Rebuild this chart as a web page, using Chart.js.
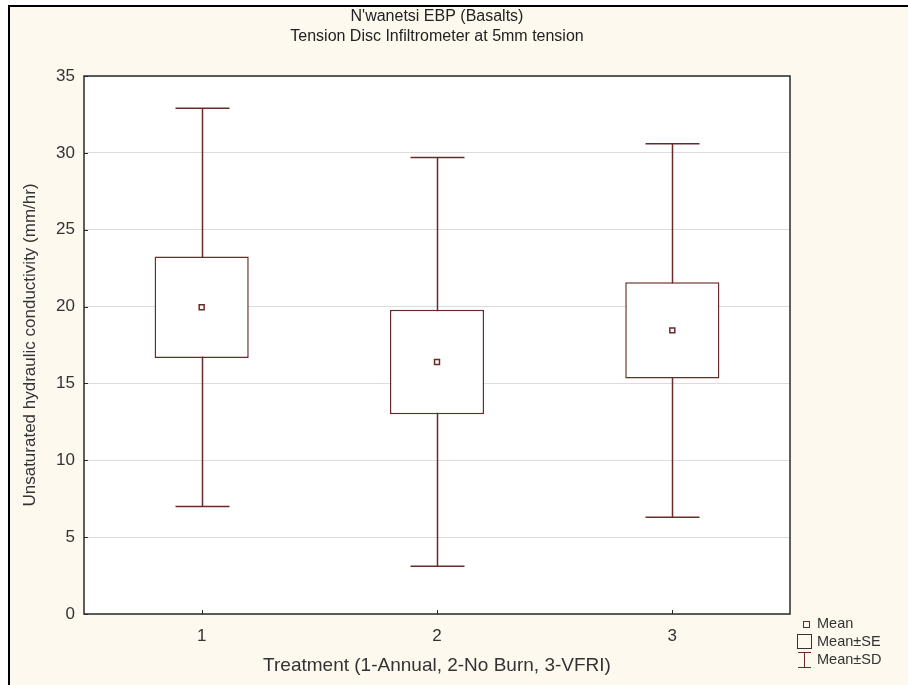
<!DOCTYPE html>
<html>
<head>
<meta charset="utf-8">
<script src="https://cdn.jsdelivr.net/npm/chart.js@4.4.0/dist/chart.umd.min.js"></script>
<style>
html, body { margin: 0; padding: 0; background: #fff; }
#frame { position: absolute; left: 8px; top: 5px; width: 1000px; height: 800px;
  border-left: 2px solid #000; border-top: 2px solid #000; background: #fdf9ee; }
#wrap { position: absolute; left: 0; top: 0; width: 908px; height: 685px; }
</style>
</head>
<body>
<div id="frame"></div>
<div id="wrap"><canvas id="myChart" width="908" height="685"></canvas></div>
<script>
// Treatment groups and their stats
var treatments = ['1', '2', '3'];
var means = [19.95, 16.4, 18.45];
var se = [3.3, 3.4, 3.13];
var sd = [12.95, 13.3, 12.15];
var yTicks = [0, 5, 10, 15, 20, 25, 30, 35];

var titleLines = ["N'wanetsi EBP (Basalts)", 'Tension Disc Infiltrometer at 5mm tension'];
var legendItems = ['Mean', 'Mean\u00b1SE', 'Mean\u00b1SD'];

var col = '#6b2a2a';
var fam = 'Arial, "Liberation Sans", sans-serif';

Chart.defaults.font.family = fam;
Chart.defaults.font.size = 17;
Chart.defaults.color = '#333';

var boxData = means.map(function (m, i) { return [m - se[i], m + se[i]]; });

var plotDecor = {
    id: 'plotDecor',
    beforeDraw: function (chart) {
        var a = chart.chartArea, ctx = chart.ctx;
        ctx.save();
        ctx.fillStyle = '#fff';
        ctx.fillRect(a.left, a.top, a.right - a.left, a.bottom - a.top);
        ctx.restore();
    },
    beforeDatasetsDraw: function (chart) {
        // SD whiskers, drawn under the SE boxes
        var ctx = chart.ctx, x = chart.scales.x, y = chart.scales.y;
        ctx.save();
        ctx.strokeStyle = col;
        ctx.lineWidth = 1.5;
        treatments.forEach(function (t, i) {
            var px = Math.round(x.getPixelForValue(i)) + 0.5;
            var top = y.getPixelForValue(means[i] + sd[i]);
            var bot = y.getPixelForValue(means[i] - sd[i]);
            ctx.beginPath();
            ctx.moveTo(px, top); ctx.lineTo(px, bot);
            ctx.moveTo(px - 27, top); ctx.lineTo(px + 27, top);
            ctx.moveTo(px - 27, bot); ctx.lineTo(px + 27, bot);
            ctx.stroke();
        });
        ctx.restore();
    },
    afterDraw: function (chart) {
        var a = chart.chartArea, ctx = chart.ctx, x = chart.scales.x, y = chart.scales.y;
        ctx.save();
        // frame of plot
        ctx.strokeStyle = '#2a2a2a';
        ctx.lineWidth = 1.5;
        ctx.strokeRect(a.left, a.top, a.right - a.left, a.bottom - a.top);
        // little inner ticks
        ctx.lineWidth = 1;
        ctx.beginPath();
        yTicks.forEach(function (v) {
            var py = Math.round(y.getPixelForValue(v)) + 0.5;
            ctx.moveTo(a.left, py); ctx.lineTo(a.left + 4, py);
        });
        treatments.forEach(function (t, i) {
            var px = Math.round(x.getPixelForValue(i)) + 0.5;
            ctx.moveTo(px, a.bottom); ctx.lineTo(px, a.bottom - 4);
        });
        ctx.stroke();

        // title
        ctx.fillStyle = '#222';
        ctx.font = '16px ' + fam;
        ctx.textAlign = 'center';
        ctx.textBaseline = 'middle';
        var cx = (a.left + a.right) / 2;
        ctx.fillText(titleLines[0], cx, 17);
        ctx.fillText(titleLines[1], cx, 37);

        // legend
        ctx.font = '14.5px ' + fam;
        ctx.textAlign = 'left';
        ctx.fillStyle = '#333';
        ctx.fillText(legendItems[0], 817, 624);
        ctx.fillText(legendItems[1], 817, 642);
        ctx.fillText(legendItems[2], 817, 660);
        ctx.strokeStyle = col;
        ctx.lineWidth = 1;
        ctx.strokeRect(803.5, 621.5, 6, 6);
        ctx.strokeStyle = '#333';
        ctx.strokeRect(797.5, 634.5, 14, 14);
        ctx.strokeStyle = col;
        ctx.beginPath();
        ctx.moveTo(798, 652.5); ctx.lineTo(811, 652.5);
        ctx.moveTo(804.5, 652.5); ctx.lineTo(804.5, 667.5);
        ctx.moveTo(798, 667.5); ctx.lineTo(811, 667.5);
        ctx.stroke();
        ctx.restore();
    }
};

var ctx = document.getElementById('myChart').getContext('2d');
var myChart = new Chart(ctx, {
    data: {
        labels: treatments,
        datasets: [{
            type: 'line',
            label: 'Mean',
            data: means,
            showLine: false,
            pointStyle: 'rect',
            pointRadius: 3.5,
            pointBorderWidth: 1.5,
            pointBackgroundColor: '#fff',
            pointBorderColor: col,
            order: 1
        }, {
            type: 'bar',
            label: 'Mean\u00b1SE',
            data: boxData,
            backgroundColor: '#fff',
            borderColor: col,
            borderWidth: 1.5,
            borderSkipped: false,
            barPercentage: 0.4,
            categoryPercentage: 1,
            order: 2
        }]
    },
    options: {
        responsive: false,
        animation: false,
        layout: { padding: { left: 16, right: 118, top: 76, bottom: 0 } },
        plugins: { legend: { display: false }, tooltip: { enabled: false } },
        scales: {
            x: {
                type: 'category',
                offset: true,
                grid: { display: false, drawTicks: false },
                border: { display: false },
                ticks: { padding: 12, color: '#333' },
                title: {
                    display: true,
                    text: 'Treatment (1-Annual, 2-No Burn, 3-VFRI)',
                    color: '#333',
                    font: { size: 19 },
                    padding: { top: 14, bottom: 8 }
                },
                afterFit: function (s) { s.height = 71; }
            },
            y: {
                min: 0,
                max: 35,
                afterBuildTicks: function (s) { s.ticks = yTicks.map(function (v) { return { value: v }; }); },
                grid: { color: '#dcdcdc', drawTicks: false },
                border: { display: false },
                ticks: { padding: 9, color: '#333' },
                title: {
                    display: true,
                    text: 'Unsaturated hydraulic conductivity (mm/hr)',
                    color: '#333',
                    font: { size: 17 },
                    padding: { top: 4, bottom: 4 }
                },
                afterFit: function (s) { s.width = 68; }
            }
        }
    },
    plugins: [plotDecor]
});
</script>
</body>
</html>
